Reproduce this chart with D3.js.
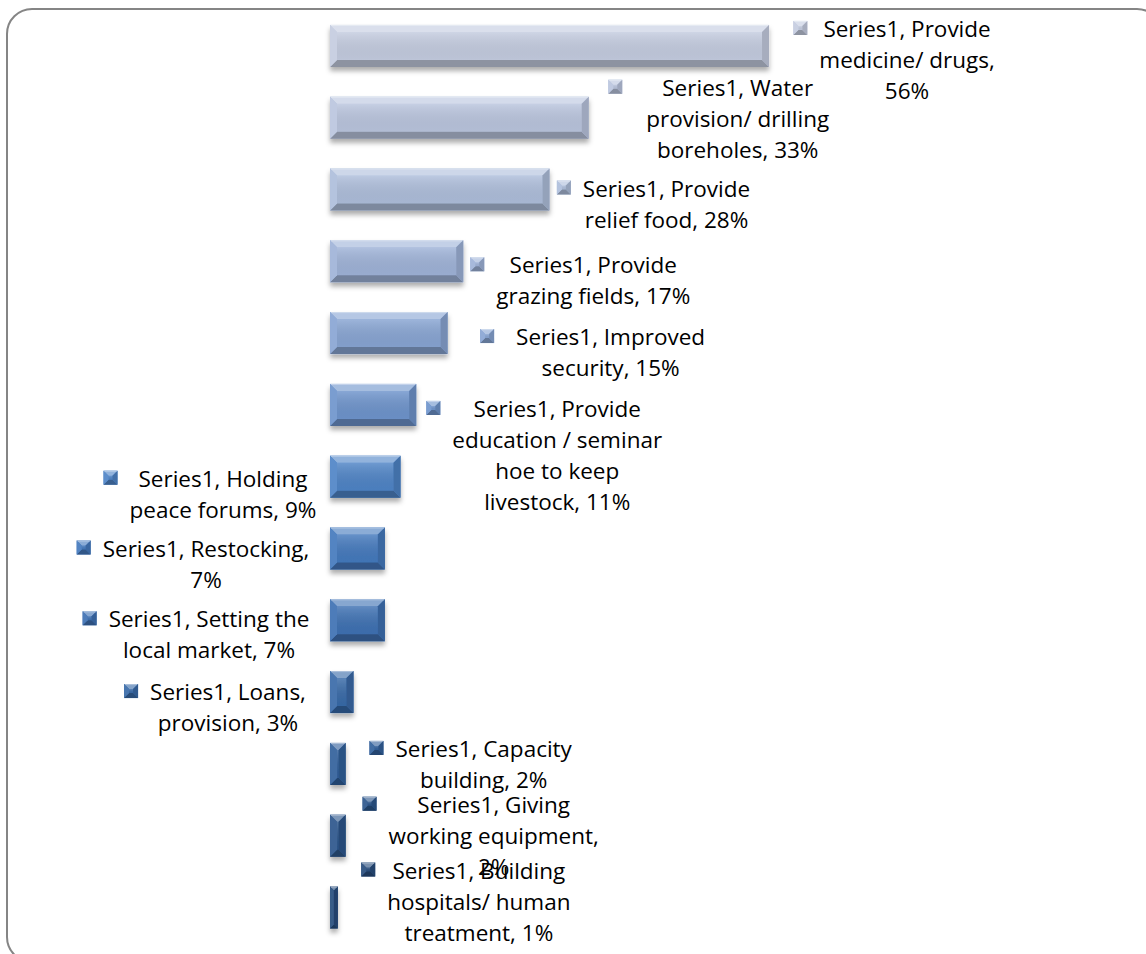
<!DOCTYPE html>
<html>
<head>
<meta charset="utf-8">
<script src="https://cdn.jsdelivr.net/npm/d3@7/dist/d3.min.js"></script>
<style>
  body { margin: 0; background: #fff; }
  svg { display: block; }
  text { font-family: "Open Sans", sans-serif; font-size: 22.5px; fill: #000; }
</style>
</head>
<body>
<div id="chart"></div>
<script>
// data
let seriesName = "Series1";
let categories = [
    "Provide medicine/ drugs",
    "Water provision/ drilling boreholes",
    "Provide relief food",
    "Provide grazing fields",
    "Improved security",
    "Provide education / seminar hoe to keep livestock",
    "Holding peace forums",
    "Restocking",
    "Setting the local market",
    "Loans, provision",
    "Capacity building",
    "Giving working equipment",
    "Building hospitals/ human treatment"
];
let values = [56, 33, 28, 17, 15, 11, 9, 7, 7, 3, 2, 2, 1];

// how each data label wraps
let labelLines = [
    ["Series1, Provide", "medicine/ drugs,", "56%"],
    ["Series1, Water", "provision/ drilling", "boreholes, 33%"],
    ["Series1, Provide", "relief food, 28%"],
    ["Series1, Provide", "grazing fields, 17%"],
    ["Series1, Improved", "security, 15%"],
    ["Series1, Provide", "education / seminar", "hoe to keep", "livestock, 11%"],
    ["Series1, Holding", "peace forums, 9%"],
    ["Series1, Restocking,", "7%"],
    ["Series1, Setting the", "local market, 7%"],
    ["Series1, Loans,", "provision, 3%"],
    ["Series1, Capacity", "building, 2%"],
    ["Series1, Giving", "working equipment,", "2%"],
    ["Series1, Building", "hospitals/ human", "treatment, 1%"]
];

// label placement: anchored at bar end ('end') or at the axis ('axis'), offsets in px
let labelPos = [
    {side: "end", dx: 138, dy: -9},
    {side: "end", dx: 149, dy: -22, mdx: -12},
    {side: "end", dx: 117, dy: 7},
    {side: "end", dx: 130, dy: 12},
    {side: "end", dx: 163, dy: 12, mdx: -10},
    {side: "end", dx: 141, dy: 12},
    {side: "axis", dx: -107, dy: 10},
    {side: "axis", dx: -124, dy: 8},
    {side: "axis", dx: -121, dy: 7},
    {side: "axis", dx: -102, dy: 8},
    {side: "end", dx: 138, dy: -7},
    {side: "end", dx: 148, dy: -23},
    {side: "end", dx: 141, dy: -29}
];

let barColors = ["#c4cce0", "#bac5de", "#aebedb", "#9fb3d8", "#88a5d3", "#6e94cc",
                 "#4f84c6", "#4479bd", "#3e71b3", "#386aa8", "#32609b", "#2d578c", "#284d7d"];

let svgWidth = 1146;
let svgHeight = 954;
let lineHeight = 31;

let svg = d3.select("#chart")
    .append("svg")
    .attr("width", svgWidth)
    .attr("height", svgHeight);

let defs = svg.append("defs");

let shadow = defs.append("filter")
    .attr("id", "shadow")
    .attr("x", "-20%").attr("y", "-30%")
    .attr("width", "140%").attr("height", "170%");
shadow.append("feDropShadow")
    .attr("dx", 0).attr("dy", 4)
    .attr("stdDeviation", 2.5)
    .attr("flood-color", "#000")
    .attr("flood-opacity", 0.32);

let sheen = defs.append("linearGradient")
    .attr("id", "sheen")
    .attr("x1", 0).attr("y1", 0).attr("x2", 0).attr("y2", 1);
sheen.append("stop").attr("offset", "0%").attr("stop-color", "#fff").attr("stop-opacity", 0.18);
sheen.append("stop").attr("offset", "100%").attr("stop-color", "#000").attr("stop-opacity", 0.04);

// outer frame
svg.append("rect")
    .attr("x", 7).attr("y", 9)
    .attr("width", 1155).attr("height", 953)
    .attr("rx", 25)
    .attr("fill", "none")
    .attr("stroke", "#858585")
    .attr("stroke-width", 2);

// scales
let x = d3.scaleLinear()
    .domain([0, 100])
    .range([330, 330 + 784]);

let y = d3.scaleBand()
    .domain(categories)
    .range([10, 943.4])
    .paddingInner(0.415)
    .paddingOuter(0.2075);

// bevelled box
function bevel(g, x0, y0, w, h, b, color) {
    let x1 = x0 + w, y1 = y0 + h;
    b = Math.min(b, w / 2, h / 2);
    let light = d3.interpolateRgb(color, "#fff");
    let dark = d3.interpolateRgb(color, "#000");
    g.append("rect")
        .attr("x", x0).attr("y", y0).attr("width", w).attr("height", h)
        .attr("fill", color);
    g.append("rect")
        .attr("x", x0 + b).attr("y", y0 + b)
        .attr("width", Math.max(0, w - 2 * b)).attr("height", Math.max(0, h - 2 * b))
        .attr("fill", "url(#sheen)");
    let facets = [
        [[x0, y0], [x1, y0], [x1 - b, y0 + b], [x0 + b, y0 + b], light(0.38)],
        [[x0, y1], [x1, y1], [x1 - b, y1 - b], [x0 + b, y1 - b], dark(0.28)],
        [[x0, y0], [x0 + b, y0 + b], [x0 + b, y1 - b], [x0, y1], light(0.08)],
        [[x1, y0], [x1 - b, y0 + b], [x1 - b, y1 - b], [x1, y1], dark(0.15)]
    ];
    facets.forEach(f => {
        g.append("polygon")
            .attr("points", f.slice(0, 4).map(p => p.join(",")).join(" "))
            .attr("fill", f[4]);
    });
    g.append("line")
        .attr("x1", x0 + 1).attr("x2", x1 - 1)
        .attr("y1", y0 + 0.5).attr("y2", y0 + 0.5)
        .attr("stroke", light(0.6)).attr("stroke-width", 1);
}

// bars
let barGroup = svg.append("g").attr("filter", "url(#shadow)");
categories.forEach((c, i) => {
    let g = barGroup.append("g").attr("class", "bar");
    bevel(g, x(0), y(c), x(values[i]) - x(0), y.bandwidth(), 7, barColors[i]);
});

// data labels
let labelGroup = svg.append("g");
categories.forEach((c, i) => {
    let pos = labelPos[i];
    let ax = (pos.side === "end" ? x(values[i]) : x(0)) + pos.dx;
    let ay = y(c) + y.bandwidth() / 2 + pos.dy;
    let g = labelGroup.append("g");
    let maxW = 0;
    labelLines[i].forEach((line, k) => {
        let t = g.append("text")
            .attr("x", ax)
            .attr("y", ay + k * lineHeight)
            .attr("text-anchor", "middle")
            .text(line);
        maxW = Math.max(maxW, t.node().getComputedTextLength());
    });
    let mx = ax - maxW / 2 - 12 - 14 + (pos.mdx || 0);
    bevel(g.append("g"), mx, ay - 16, 14, 14, 5, barColors[i]);
});
</script>
</body>
</html>
